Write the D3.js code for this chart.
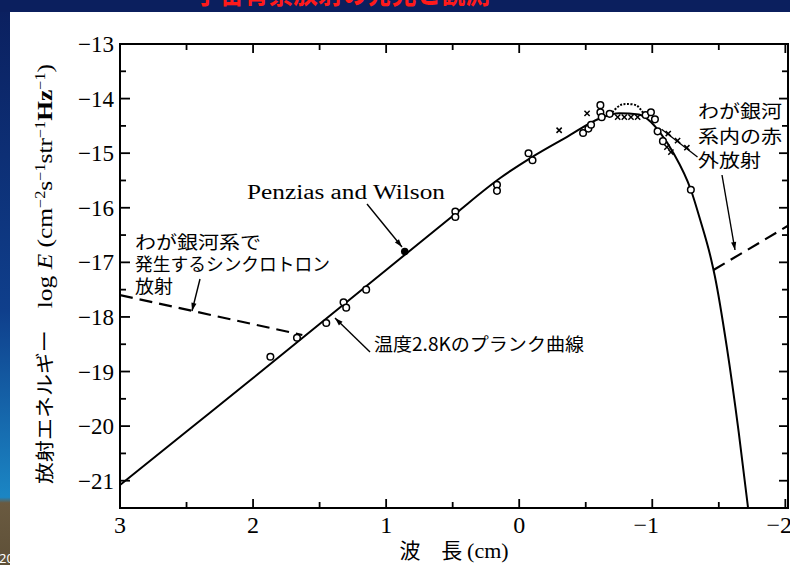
<!DOCTYPE html>
<html><head><meta charset="utf-8">
<script src="https://cdn.jsdelivr.net/npm/d3@7"></script>
<style>
html,body{margin:0;padding:0;background:#fff;}
svg{display:block;}
</style></head>
<body>
<svg id="chart" width="790" height="565"></svg>
<script>
// ---- data (log wavelength [cm], log E) ----
const xTicks = [3, 2, 1, 0, -1, -2];
const xTickLabels = ["3", "2", "1", "0", "\u22121", "\u22122"];
const yTicks = [-13, -14, -15, -16, -17, -18, -19, -20, -21];
const yTickLabels = ["\u221213", "\u221214", "\u221215", "\u221216", "\u221217", "\u221218", "\u221219", "\u221220", "\u221221"];

const planckLogLambda = [3, 2.5, 2, 1.5, 1, 0.5, 0.14, -0.09, -0.36, -0.61, -0.75, -0.9, -0.99, -1.06, -1.16, -1.29, -1.36, -1.44, -1.47, -1.56, -1.65, -1.72];
const planckLogE      = [-21.08, -20.1, -19.12, -18.13, -17.14, -16.15, -15.45, -15.08, -14.7, -14.36, -14.27, -14.29, -14.43, -14.63, -15.0, -15.67, -16.22, -16.92, -17.25, -18.55, -20.12, -21.5];

const synchLogLambda = [3, 1.63];
const synchLogE      = [-17.6, -18.33];

const irLogLambda = [-1.46, -2.02];
const irLogE      = [-17.14, -16.33];

const humpLogLambda = [-0.70, -0.76, -0.81, -0.885, -0.93];
const humpLogE      = [-14.25, -14.12, -14.1, -14.13, -14.26];

const circleLogLambda = [1.87, 1.67, 1.45, 1.32, 1.30, 1.15, 0.48, 0.48, 0.167, 0.167, -0.07, -0.10, -0.48, -0.52, -0.54, -0.61, -0.61, -0.62, -0.68, -0.95, -0.99, -1.02, -1.04, -1.08, -1.29];
const circleLogE      = [-18.73, -18.38, -18.11, -17.73, -17.83, -17.5, -16.07, -16.17, -15.58, -15.69, -15.0, -15.13, -14.63, -14.55, -14.48, -14.12, -14.25, -14.34, -14.28, -14.3, -14.25, -14.38, -14.6, -14.78, -15.67];

const crossLogLambda = [-0.30, -0.51, -0.74, -0.79, -0.84, -0.89, -1.11, -1.14];
const crossLogE      = [-14.58, -14.27, -14.34, -14.34, -14.34, -14.34, -14.89, -14.98];

const pwLogLambda = [0.86];
const pwLogE      = [-16.8];

const irObsLogLambda = [-1.12, -1.19, -1.26];
const irObsLogE      = [-14.64, -14.77, -14.9];

// ---- drawing ----
const svg = d3.select("#chart");
const W = 790, H = 565;
const x = d3.scaleLinear().domain([3, -2.02]).range([120, 788]);
const y = d3.scaleLinear().domain([-13, -21.5]).range([44, 508]);
const zip = (a, b) => a.map((v, i) => [v, b[i]]);

// slide background
const defs = svg.append("defs");
const lg = defs.append("linearGradient").attr("id","side").attr("x1",0).attr("y1",0).attr("x2",0).attr("y2",1);
lg.append("stop").attr("offset","0%").attr("stop-color","#0b1f5e");
lg.append("stop").attr("offset","55%").attr("stop-color","#0f3f8c");
lg.append("stop").attr("offset","88%").attr("stop-color","#1b86c4");
lg.append("stop").attr("offset","89%").attr("stop-color","#6a5a40");
lg.append("stop").attr("offset","100%").attr("stop-color","#5e5038");
svg.append("rect").attr("x",0).attr("y",0).attr("width",W).attr("height",H).attr("fill","#ffffff");
svg.append("rect").attr("x",0).attr("y",0).attr("width",10).attr("height",H).attr("fill","url(#side)");
svg.append("rect").attr("x",0).attr("y",0).attr("width",W).attr("height",12).attr("fill","#0b1f5e");
const clipTop = defs.append("clipPath").attr("id","clipTop");
clipTop.append("rect").attr("x",0).attr("y",0).attr("width",W).attr("height",12);
svg.append("text").attr("clip-path","url(#clipTop)")
  .attr("x",195).attr("y",3).attr("textLength",295).attr("lengthAdjust","spacingAndGlyphs")
  .attr("font-family","Noto Sans CJK JP").attr("font-weight","bold").attr("font-size",30)
  .attr("fill","#ff1a1a").text("宇宙背景放射の発見と観測");
const clipSide = defs.append("clipPath").attr("id","clipSide");
clipSide.append("rect").attr("x",0).attr("y",0).attr("width",10).attr("height",H);
svg.append("text").attr("clip-path","url(#clipSide)").attr("x",-1).attr("y",563)
  .attr("font-family","Noto Sans").attr("font-size",13).attr("fill","#ffffff").text("20");

const g = svg.append("g");

// frame
g.append("rect").attr("x",x(3)).attr("y",y(-13)).attr("width",x(-2.02)-x(3)).attr("height",y(-21.5)-y(-13))
  .attr("fill","none").attr("stroke","#000").attr("stroke-width",2);

// ticks: every 0.5
const xt = d3.range(0, 11).map(i => 3 - i*0.5);
xt.forEach(v => {
  const major = Number.isInteger(v);
  if (v === 3 || v < -2) return;
  g.append("line").attr("x1",x(v)).attr("x2",x(v)).attr("y1",y(-21.5)).attr("y2",y(-21.5)-(major?9:6)).attr("stroke","#000").attr("stroke-width",1.8);
  g.append("line").attr("x1",x(v)).attr("x2",x(v)).attr("y1",y(-13)).attr("y2",y(-13)+(major?9:6)).attr("stroke","#000").attr("stroke-width",1.8);
});
const yt = d3.range(0, 18).map(i => -13 - i*0.5);
yt.forEach(v => {
  const major = Number.isInteger(v);
  if (v === -13 || v <= -21.5) return;
  g.append("line").attr("x1",x(3)).attr("x2",x(3)+(major?10:6)).attr("y1",y(v)).attr("y2",y(v)).attr("stroke","#000").attr("stroke-width",1.8);
  g.append("line").attr("x1",x(-2.02)).attr("x2",x(-2.02)-(major?9:6)).attr("y1",y(v)).attr("y2",y(v)).attr("stroke","#000").attr("stroke-width",1.8);
});

// tick labels
g.selectAll(".xl").data(xTicks).enter().append("text")
  .attr("x", (d,i) => x(d) - (d < 0 ? 6 : 0)).attr("y", 533)
  .attr("text-anchor","middle").attr("font-family","Liberation Serif").attr("font-size",24)
  .text((d,i) => xTickLabels[i]);
g.selectAll(".yl").data(yTicks).enter().append("text")
  .attr("x", 114).attr("y", d => y(d) + 8)
  .attr("text-anchor","end").attr("font-family","Liberation Serif").attr("font-size",23)
  .text((d,i) => yTickLabels[i]);

// axis titles
g.append("text").attr("x",454).attr("y",558).attr("text-anchor","middle")
  .attr("font-family","Noto Sans CJK JP").attr("font-size",21)
  .text("波　長 ")
  .append("tspan").attr("font-family","Liberation Serif").attr("font-size",22).text("(cm)");

const yt2 = g.append("text").attr("transform","translate(52,274) rotate(-90)").attr("text-anchor","middle")
  .attr("textLength",420).attr("lengthAdjust","spacingAndGlyphs")
  .attr("font-size",22).attr("font-family","Liberation Serif");
yt2.append("tspan").attr("font-family","Noto Sans CJK JP").attr("font-size",19).text("放射エネルギー　");
yt2.append("tspan").text("log ");
yt2.append("tspan").attr("font-style","italic").text("E");
yt2.append("tspan").text(" (cm");
yt2.append("tspan").attr("baseline-shift","super").attr("font-size",14).text("\u22122");
yt2.append("tspan").text("s");
yt2.append("tspan").attr("baseline-shift","super").attr("font-size",14).text("\u22121");
yt2.append("tspan").text("str");
yt2.append("tspan").attr("baseline-shift","super").attr("font-size",14).text("\u22121");
yt2.append("tspan").attr("font-weight","bold").text("Hz");
yt2.append("tspan").attr("baseline-shift","super").attr("font-size",14).text("\u22121");
yt2.append("tspan").text(")");

// clip for plot marks
const clipPlot = defs.append("clipPath").attr("id","clipPlot");
clipPlot.append("rect").attr("x",x(3)).attr("y",y(-13)).attr("width",x(-2.02)-x(3)).attr("height",y(-21.5)-y(-13));
const p = g.append("g").attr("clip-path","url(#clipPlot)");

const line = d3.line().x(d => x(d[0])).y(d => y(d[1]));
p.append("path").datum(zip(planckLogLambda, planckLogE))
  .attr("d", line.curve(d3.curveMonotoneX)).attr("fill","none").attr("stroke","#000").attr("stroke-width",2);
const straight = d3.line().x(d => x(d[0])).y(d => y(d[1]));
p.append("path").datum(zip(synchLogLambda, synchLogE)).attr("d", straight)
  .attr("fill","none").attr("stroke","#000").attr("stroke-width",2.2).attr("stroke-dasharray","13,7");
p.append("path").datum(zip(irLogLambda, irLogE)).attr("d", straight)
  .attr("fill","none").attr("stroke","#000").attr("stroke-width",2.2).attr("stroke-dasharray","13,7");
p.append("path").datum(zip(humpLogLambda, humpLogE)).attr("d", d3.line().x(d=>x(d[0])).y(d=>y(d[1])).curve(d3.curveCatmullRom))
  .attr("fill","none").attr("stroke","#000").attr("stroke-width",2).attr("stroke-dasharray","2,1.5");

// IR observation leader with crosses
p.append("line").attr("x1",x(-1.07)).attr("y1",y(-14.56)).attr("x2",x(-1.34)).attr("y2",y(-15.07))
  .attr("stroke","#000").attr("stroke-width",1.3);

const crossPath = (cx, cy, r) => `M${cx-r},${cy-r}L${cx+r},${cy+r}M${cx-r},${cy+r}L${cx+r},${cy-r}`;
p.selectAll(".cr").data(zip(crossLogLambda, crossLogE).concat(zip(irObsLogLambda, irObsLogE))).enter().append("path")
  .attr("d", d => crossPath(x(d[0]), y(d[1]), 2.6)).attr("stroke","#000").attr("stroke-width",1.5);
p.selectAll(".ci").data(zip(circleLogLambda, circleLogE)).enter().append("circle")
  .attr("cx", d => x(d[0])).attr("cy", d => y(d[1])).attr("r",3.3)
  .attr("fill","#fff").attr("stroke","#000").attr("stroke-width",1.5);
p.selectAll(".pw").data(zip(pwLogLambda, pwLogE)).enter().append("circle")
  .attr("cx", d => x(d[0])).attr("cy", d => y(d[1])).attr("r",3.8).attr("fill","#000");

// annotations
function arrow(x1, y1, x2, y2) {
  g.append("line").attr("x1",x1).attr("y1",y1).attr("x2",x2).attr("y2",y2).attr("stroke","#000").attr("stroke-width",1.4);
  const a = Math.atan2(y2-y1, x2-x1), L = 8, w = 2.6;
  const bx = x2 - L*Math.cos(a), by = y2 - L*Math.sin(a);
  g.append("path").attr("d",`M${x2},${y2}L${bx - w*Math.sin(a)},${by + w*Math.cos(a)}L${bx + w*Math.sin(a)},${by - w*Math.cos(a)}Z`).attr("fill","#000");
}
g.append("text").attr("x",247).attr("y",199).attr("textLength",198).attr("lengthAdjust","spacingAndGlyphs")
  .attr("font-family","Liberation Serif").attr("font-size",20).text("Penzias and Wilson");
arrow(367, 204, 402, 247);

const jp = (tx, ty, s, len, fs) => g.append("text").attr("x",tx).attr("y",ty).attr("textLength",len).attr("lengthAdjust","spacingAndGlyphs")
  .attr("font-family","Noto Sans CJK JP").attr("font-size",fs||18).text(s);
jp(135, 249, "わが銀河系で", 126);
jp(135, 271, "発生するシンクロトロン", 195);
jp(135, 293, "放射", 38);
arrow(200, 279, 192, 311);

jp(374, 351, "温度2.8Kのプランク曲線", 210);
arrow(370, 352, 335, 318);

jp(698, 118, "わが銀河", 84);
jp(698, 143, "系内の赤", 84);
jp(698, 167, "外放射", 63);
arrow(722, 175, 735, 250);
</script>
</body></html>
